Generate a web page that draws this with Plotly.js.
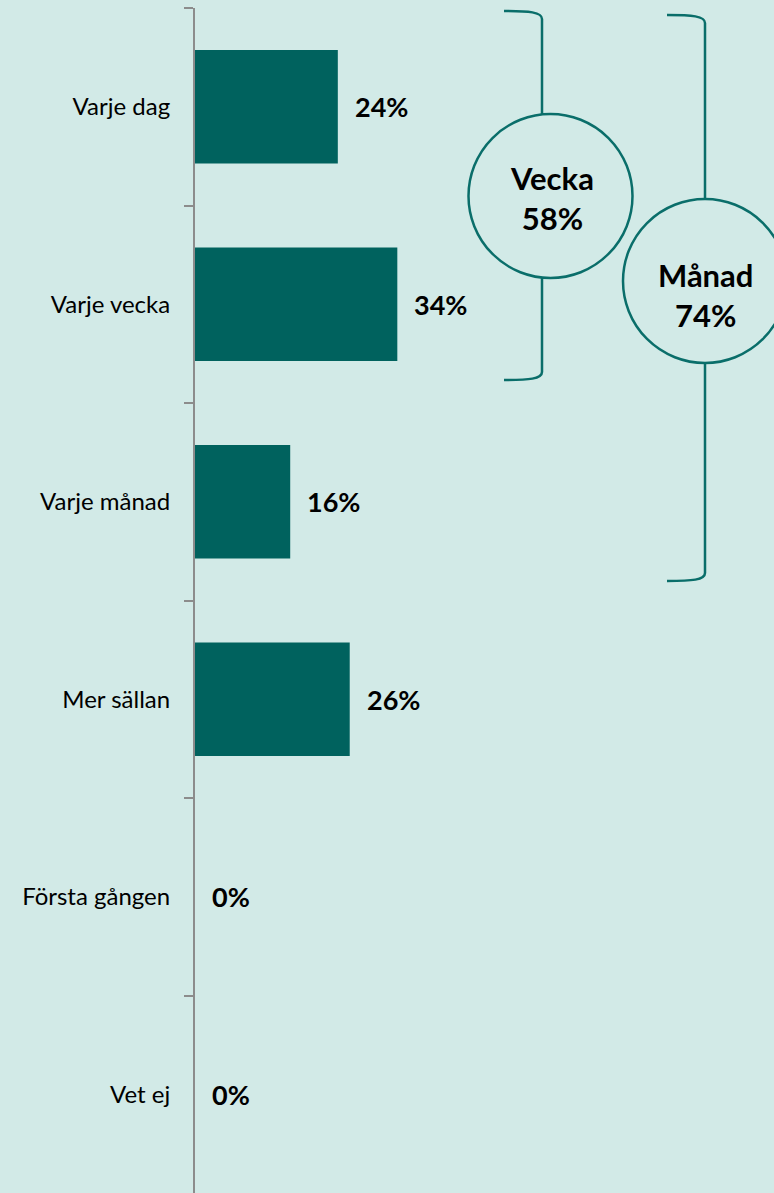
<!DOCTYPE html>
<html>
<head>
<meta charset="utf-8">
<script src="https://cdn.plot.ly/plotly-3.0.1.min.js"></script>
<style>
  html, body { margin: 0; padding: 0; background: #d2eae7; }
  #chart { width: 774px; height: 1193px; }
</style>
</head>
<body>
<div id="chart"></div>
<script>
const categories = ['Varje dag', 'Varje vecka', 'Varje månad', 'Mer sällan', 'Första gången', 'Vet ej'];
const values = [24, 34, 16, 26, 0, 0];
const valueLabels = ['24%', '34%', '16%', '26%', '0%', '0%'];
const groupNames = ['Vecka', 'Månad'];
const groupLabels = ['58%', '74%'];

const W = 774, H = 1193;
const L = 195, T = 8, R = 0, B = 0;
const PW = W - L - R, PH = H - T - B;
const px = x => (x - L) / PW;
const py = y => 1 - (y - T) / PH;

const BG = '#d2eae7';
const BAR = '#00625e';
const LINE = '#0a6e6a';
const FONT = 'Lato, "Open Sans", sans-serif';

const trace = {
  type: 'bar',
  orientation: 'h',
  x: values,
  y: categories,
  marker: { color: BAR },
  hoverinfo: 'none'
};

const annotations = categories.map((c, i) => ({
  x: values[i], y: c, xref: 'x', yref: 'y',
  text: '<b>' + valueLabels[i] + '</b>',
  showarrow: false, xanchor: 'left', yanchor: 'middle', xshift: 15,
  font: { family: FONT, size: 27, color: '#000' }
}));

function pathStr(pts) {
  return pts.map(p => {
    if (p[0] === 'M' || p[0] === 'L') return p[0] + px(p[1]) + ',' + py(p[2]);
    if (p[0] === 'C') return 'C' + px(p[1]) + ',' + py(p[2]) + ' ' + px(p[3]) + ',' + py(p[4]) + ' ' + px(p[5]) + ',' + py(p[6]);
  }).join(' ');
}

function bracket(xl, xv, yTop, yCircTop, yCircBot, yBot) {
  return pathStr([
    ['M', xl, yTop], ['C', xl + 25, yTop, xv, yTop + 1, xv, yTop + 8], ['L', xv, yCircTop],
    ['M', xv, yCircBot], ['L', xv, yBot - 8], ['C', xv, yBot - 1, xl + 25, yBot, xl, yBot]
  ]);
}

const groups = [
  { cx: 550.5, cy: 196, r: 82, xl: 504, xv: 542, yTop: 11, yBot: 380, ty: 198, tx: 552 },
  { cx: 705, cy: 281, r: 82, xl: 667, xv: 705, yTop: 15, yBot: 581, ty: 295, tx: 705 }
];

const shapes = [];
groups.forEach((g, i) => {
  shapes.push({
    type: 'path', xref: 'paper', yref: 'paper',
    path: bracket(g.xl, g.xv, g.yTop, g.cy - g.r, g.cy + g.r, g.yBot),
    line: { color: LINE, width: 2.5 }
  });
  shapes.push({
    type: 'circle', xref: 'paper', yref: 'paper',
    x0: px(g.cx - g.r), x1: px(g.cx + g.r), y0: py(g.cy + g.r), y1: py(g.cy - g.r),
    line: { color: LINE, width: 2.5 }, fillcolor: 'rgba(0,0,0,0)'
  });
  annotations.push({
    xref: 'paper', yref: 'paper', x: px(g.tx), y: py(g.ty),
    text: '<b>' + groupNames[i] + '</b><br><b>' + groupLabels[i] + '</b>',
    showarrow: false, xanchor: 'center', yanchor: 'middle',
    font: { family: FONT, size: 31, color: '#000' }
  });
});

const layout = {
  width: W, height: H,
  margin: { l: L, r: R, t: T, b: B, pad: 0 },
  paper_bgcolor: BG, plot_bgcolor: BG,
  showlegend: false,
  bargap: 0.425,
  font: { family: FONT, color: '#000' },
  xaxis: {
    range: [0, 97.3], visible: false, fixedrange: true
  },
  yaxis: {
    type: 'category', autorange: 'reversed',
    showline: true, linecolor: '#8c8c8c', linewidth: 2,
    ticks: 'outside', tickson: 'boundaries', ticklen: 9, tickwidth: 2, tickcolor: '#8c8c8c',
    showgrid: false, zeroline: false,
    ticklabelstandoff: 18,
    tickfont: { family: FONT, size: 24, color: '#000' }
  },
  annotations: annotations,
  shapes: shapes
};

Plotly.newPlot('chart', [trace], layout, { displayModeBar: false, staticPlot: true });
</script>
</body>
</html>
